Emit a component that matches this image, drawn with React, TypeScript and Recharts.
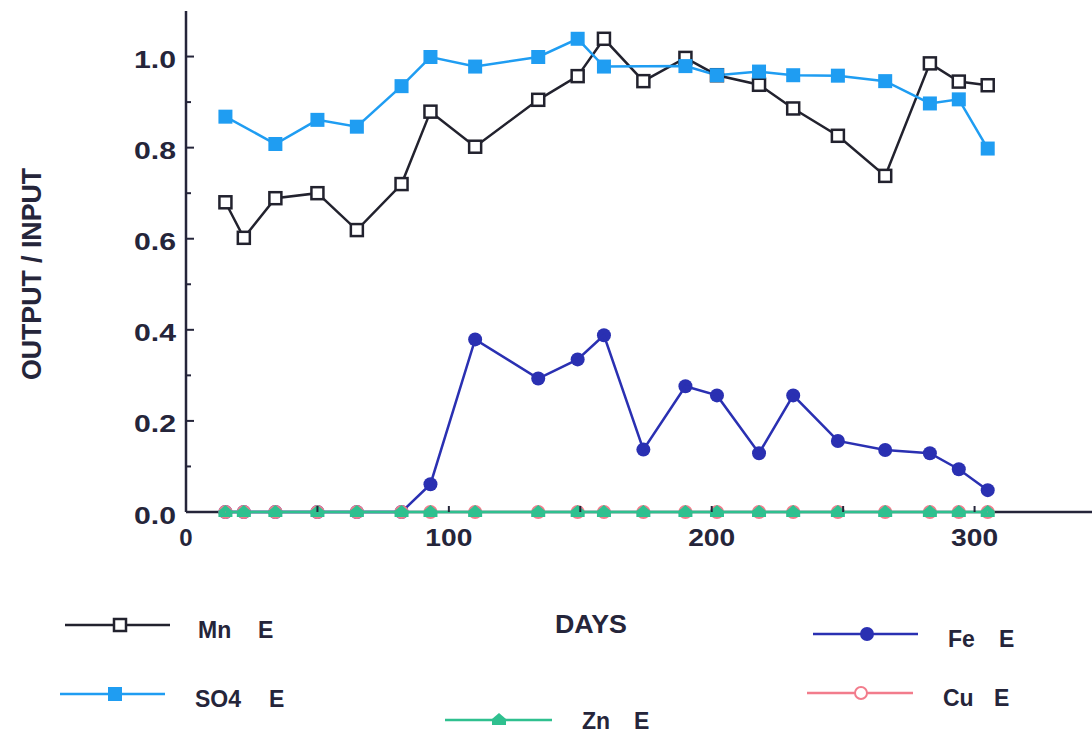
import React from 'react';
import { LineChart, Line, XAxis, YAxis } from 'recharts';

// sampling days (x) and output/input ratios
const days = [15, 22, 34, 50, 65, 82, 93, 110, 134, 149, 159, 174, 190, 202, 218, 231, 248, 266, 283, 294, 305];
const mnE = [0.68, 0.602, 0.689, 0.7, 0.619, 0.72, 0.879, 0.802, 0.905, 0.957, 1.039, 0.946, 0.997, 0.959, 0.938, 0.886, 0.826, 0.738, 0.985, 0.945, 0.937];
const so4E = [0.868, null, 0.808, 0.861, 0.846, 0.935, 0.999, 0.978, 0.999, 1.039, 0.978, null, 0.979, 0.959, 0.967, 0.959, 0.958, 0.946, 0.897, 0.906, 0.798];
const feE = [0, 0, 0, 0, 0, 0, 0.061, 0.379, 0.293, 0.335, 0.388, 0.137, 0.276, 0.256, 0.129, 0.256, 0.156, 0.136, 0.129, 0.094, 0.048];
const cuE = [0, 0, 0, 0, 0, 0, 0, 0, 0, 0, 0, 0, 0, 0, 0, 0, 0, 0, 0, 0, 0];
const znE = [0, 0, 0, 0, 0, 0, 0, 0, 0, 0, 0, 0, 0, 0, 0, 0, 0, 0, 0, 0, 0];

const yTicks = [0, 0.1, 0.2, 0.3, 0.4, 0.5, 0.6, 0.7, 0.8, 0.9, 1.0];
const xTicks = [0, 50, 100, 150, 200, 250, 300];
const topTicks = [50, 100, 150, 200, 250, 300];

const data = days.map((d, i) => ({
  day: d,
  mn: mnE[i],
  so4: so4E[i],
  fe: feE[i],
  cu: cuE[i],
  zn: znE[i],
}));

const INK = '#25253a';
const MN = '#22222e';
const SO4 = '#1f9df2';
const FE = '#2a30b2';
const ZN = '#2fc08f';
const CU = '#f27c8c';
const FONT = "'Liberation Sans', Arial, Helvetica, sans-serif";

type DotProps = { cx?: number; cy?: number; index?: number };

const ok = (p: DotProps) => p.cx != null && p.cy != null && !isNaN(p.cx) && !isNaN(p.cy);

const openSquare = (p: DotProps) =>
  ok(p) ? (
    <rect key={`mn-${p.index}`} x={p.cx! - 6} y={p.cy! - 6} width={12} height={12} fill="#fff" stroke={MN} strokeWidth={2.5} />
  ) : <g key={`mn-${p.index}`} />;

const fullSquare = (p: DotProps) =>
  ok(p) ? (
    <rect key={`so4-${p.index}`} x={p.cx! - 7} y={p.cy! - 7} width={14} height={14} fill={SO4} />
  ) : <g key={`so4-${p.index}`} />;

const fullCircle = (p: DotProps) =>
  ok(p) ? <circle key={`fe-${p.index}`} cx={p.cx} cy={p.cy} r={7} fill={FE} /> : <g key={`fe-${p.index}`} />;

const openCircle = (p: DotProps) =>
  ok(p) ? (
    <circle key={`cu-${p.index}`} cx={p.cx} cy={p.cy} r={6} fill="#fff" stroke={CU} strokeWidth={2} />
  ) : <g key={`cu-${p.index}`} />;

// house-like triangle marker, as printed in the original
const triangle = (p: DotProps) =>
  ok(p) ? (
    <polygon
      key={`zn-${p.index}`}
      points={`${p.cx},${p.cy! - 7} ${p.cx! + 7},${p.cy! - 1} ${p.cx! + 7},${p.cy! + 5} ${p.cx! - 7},${p.cy! + 5} ${p.cx! - 7},${p.cy! - 1}`}
      fill={ZN}
    />
  ) : <g key={`zn-${p.index}`} />;

const LeftTick = (props: any) => {
  const { x, y, payload } = props;
  const v: number = payload.value;
  const major = Math.round(v * 10) % 2 === 0;
  return (
    <g>
      <line x1={x} x2={x + (major ? 8 : 5)} y1={y} y2={y} stroke={INK} strokeWidth={2} />
      {major && (
        <text
          x={x - 52}
          y={y + 3}
          dominantBaseline="central"
          textLength={42}
          lengthAdjust="spacingAndGlyphs"
          fontFamily={FONT}
          fontWeight="bold"
          fontSize={24}
          fill={INK}
        >
          {v.toFixed(1)}
        </text>
      )}
    </g>
  );
};

const BottomTick = (props: any) => {
  const { x, y, payload } = props;
  const v: number = payload.value;
  const label = v % 100 === 0;
  return (
    <g>
      {v > 0 && <line x1={x} x2={x} y1={y} y2={y - 6} stroke={INK} strokeWidth={2} />}
      {label && (
        <text
          x={v === 0 ? x : x - 23.5}
          y={y + 25}
          textAnchor={v === 0 ? 'middle' : 'start'}
          dominantBaseline="central"
          textLength={v === 0 ? undefined : 47}
          lengthAdjust="spacingAndGlyphs"
          fontFamily={FONT}
          fontWeight="bold"
          fontSize={24}
          fill={INK}
        >
          {v}
        </text>
      )}
    </g>
  );
};

const TopTick = (props: any) => {
  const { x, y } = props;
  return <line x1={x} x2={x} y1={y} y2={y + 6} stroke={INK} strokeWidth={2} />;
};

const legendItems = [
  { name: 'Mn', color: MN, x1: 65, x2: 170, y: 625, mx: 120, tx: 198, ty: 630, ex: 258, mark: 'openSquare' },
  { name: 'SO4', color: SO4, x1: 60, x2: 165, y: 694, mx: 115, tx: 195, ty: 699, ex: 269, mark: 'fullSquare' },
  { name: 'Zn', color: ZN, x1: 445, x2: 552, y: 720, mx: 499, tx: 582, ty: 721, ex: 634, mark: 'triangle' },
  { name: 'Fe', color: FE, x1: 813, x2: 918, y: 634, mx: 867, tx: 948, ty: 639, ex: 999, mark: 'fullCircle' },
  { name: 'Cu', color: CU, x1: 807, x2: 913, y: 693, mx: 861, tx: 943, ty: 698, ex: 994, mark: 'openCircle' },
];

const marks: Record<string, (p: DotProps) => React.ReactElement> = {
  openSquare,
  fullSquare,
  triangle,
  fullCircle,
  openCircle,
};

const Overlay = () => (
  <svg width={1092} height={734} style={{ position: 'absolute', left: 0, top: 0, pointerEvents: 'none' }}>
    <text
      transform="translate(32,274) rotate(-90)"
      textAnchor="middle"
      dominantBaseline="central"
      textLength={212}
      lengthAdjust="spacingAndGlyphs"
      fontFamily={FONT}
      fontWeight="bold"
      fontSize={27}
      fill={INK}
    >
      OUTPUT / INPUT
    </text>
    <text
      x={555}
      y={624}
      dominantBaseline="central"
      textLength={72}
      lengthAdjust="spacingAndGlyphs"
      fontFamily={FONT}
      fontWeight="bold"
      fontSize={25}
      fill={INK}
    >
      DAYS
    </text>
    {legendItems.map((it) => (
      <g key={it.name}>
        <line x1={it.x1} x2={it.x2} y1={it.y} y2={it.y} stroke={it.color} strokeWidth={2.5} />
        {marks[it.mark]({ cx: it.mx, cy: it.y, index: 0 })}
        <text x={it.tx} y={it.ty} dominantBaseline="central" fontFamily={FONT} fontWeight="bold" fontSize={23} fill={INK}>
          {it.name}
        </text>
        <text x={it.ex} y={it.ty} dominantBaseline="central" fontFamily={FONT} fontWeight="bold" fontSize={23} fill={INK}>
          E
        </text>
      </g>
    ))}
  </svg>
);

export default function App() {
  return (
    <div style={{ position: 'fixed', left: 0, top: 0, width: 1092, height: 734, overflow: 'hidden', background: '#fff' }}>
      <LineChart width={1130} height={734} data={data} margin={{ top: 11, right: 24, bottom: 0, left: 0 }}>
        <XAxis
          dataKey="day"
          type="number"
          domain={[0, 350]}
          ticks={xTicks}
          height={222}
          tickSize={0}
          tickMargin={0}
          tickLine={false}
          axisLine={{ stroke: INK, strokeWidth: 2.5 }}
          tick={<BottomTick />}
          interval={0}
        />
        <XAxis
          xAxisId="top"
          orientation="top"
          dataKey="day"
          type="number"
          domain={[0, 350]}
          ticks={topTicks}
          height={0}
          tickSize={0}
          tickMargin={0}
          tickLine={false}
          axisLine={{ stroke: INK, strokeWidth: 2.5 }}
          tick={<TopTick />}
          interval={0}
        />
        <YAxis
          type="number"
          domain={[0, 1.1]}
          ticks={yTicks}
          width={186}
          tickSize={0}
          tickMargin={0}
          tickLine={false}
          axisLine={{ stroke: INK, strokeWidth: 2.5 }}
          tick={<LeftTick />}
          interval={0}
        />
        <Line dataKey="mn" stroke={MN} strokeWidth={2.5} dot={openSquare} connectNulls isAnimationActive={false} />
        <Line dataKey="so4" stroke={SO4} strokeWidth={2.5} dot={fullSquare} connectNulls isAnimationActive={false} />
        <Line dataKey="fe" stroke={FE} strokeWidth={2.5} dot={fullCircle} connectNulls isAnimationActive={false} zIndex={600} />
        <Line dataKey="cu" stroke={CU} strokeWidth={2} dot={openCircle} connectNulls isAnimationActive={false} zIndex={610} />
        <Line dataKey="zn" stroke={ZN} strokeWidth={2.5} dot={triangle} connectNulls isAnimationActive={false} zIndex={620} />
      </LineChart>
      <Overlay />
    </div>
  );
}
